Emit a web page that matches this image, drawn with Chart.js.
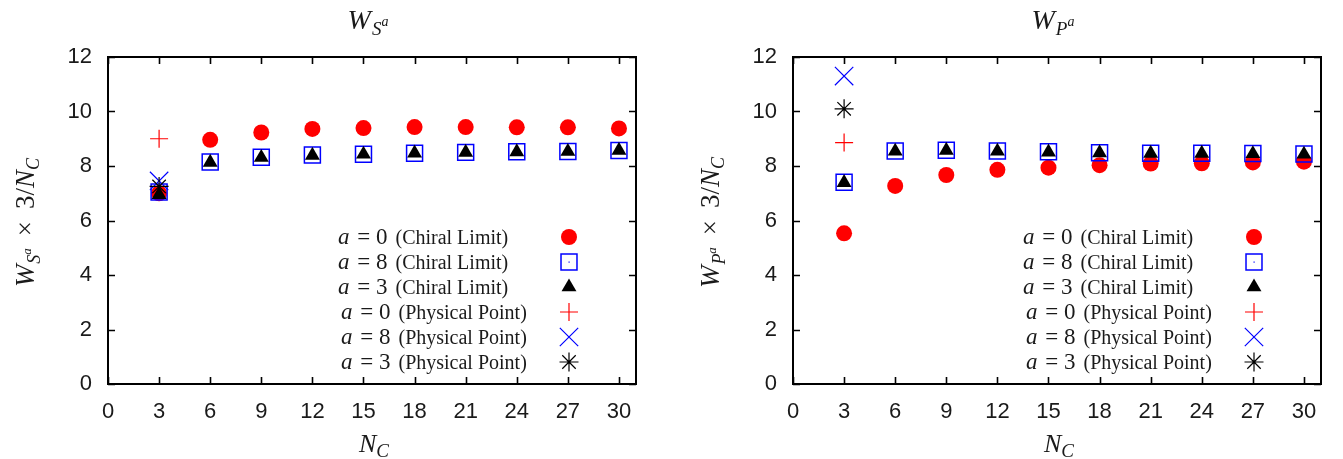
<!DOCTYPE html>
<html>
<head>
<meta charset="utf-8">
<script src="https://cdn.jsdelivr.net/npm/chart.js@4.4.1/dist/chart.umd.min.js"></script>
<style>
  html, body { margin: 0; padding: 0; background: #fff; }
  #wrap { position: relative; width: 1343px; height: 459px; overflow: hidden; }
  canvas { position: absolute; top: 0; }
</style>
</head>
<body>
<div id="wrap">
  <canvas id="chartS" width="672" height="459" style="left:0"></canvas>
  <canvas id="chartP" width="671" height="459" style="left:672px"></canvas>
</div>
<script>
// N_C values
const nc = [3, 6, 9, 12, 15, 18, 21, 24, 27, 30];
const ncPhys = [3];

// W_{S^a} x 3/N_C
const sChiral0 = [7.00, 8.96, 9.23, 9.36, 9.39, 9.43, 9.43, 9.42, 9.42, 9.38];
const sChiral8 = [7.05, 8.15, 8.32, 8.40, 8.43, 8.47, 8.50, 8.52, 8.53, 8.57];
const sChiral3 = [6.95, 8.13, 8.31, 8.39, 8.43, 8.47, 8.50, 8.52, 8.53, 8.57];
const sPhys0 = [9.00];
const sPhys8 = [7.45];
const sPhys3 = [7.25];

// W_{P^a} x 3/N_C
const pChiral0 = [5.53, 7.27, 7.67, 7.86, 7.94, 8.03, 8.09, 8.10, 8.13, 8.16];
const pChiral8 = [7.40, 8.55, 8.58, 8.55, 8.52, 8.49, 8.47, 8.47, 8.46, 8.44];
const pChiral3 = [7.39, 8.54, 8.57, 8.54, 8.51, 8.48, 8.46, 8.46, 8.45, 8.43];
const pPhys0 = [8.86];
const pPhys8 = [11.30];
const pPhys3 = [10.10];

// ticks
const xTicks = [0, 3, 6, 9, 12, 15, 18, 21, 24, 27, 30];
const yTicks = [0, 2, 4, 6, 8, 10, 12];

// legend
const legendA = ['0', '8', '3', '0', '8', '3'];
const legendNote = ['(Chiral Limit)', '(Chiral Limit)', '(Chiral Limit)',
                    '(Physical Point)', '(Physical Point)', '(Physical Point)'];

// marker styles (same order as legend)
const markers = [
  { pointStyle: 'circle',   radius: 8,    fill: '#ff0000', stroke: '#ff0000', bw: 0 },
  { pointStyle: 'rect',     radius: 11.3, fill: 'rgba(0,0,0,0)', stroke: '#0000ff', bw: 1.5 },
  { pointStyle: 'triangle', radius: 8.6,  fill: '#000000', stroke: '#000000', bw: 0 },
  { pointStyle: 'cross',    radius: 9,    fill: 'rgba(0,0,0,0)', stroke: '#ff0000', bw: 1.2 },
  { pointStyle: 'crossRot', radius: 13,   fill: 'rgba(0,0,0,0)', stroke: '#0000ff', bw: 1.2 },
  { pointStyle: 'star',     radius: 9.5,  fill: 'rgba(0,0,0,0)', stroke: '#000000', bw: 1.2 }
];

const SERIF = '"Liberation Serif", "DejaVu Serif", serif';
const SANS = '"Liberation Sans", Arial, sans-serif';
const TXT = '#1a1a1a';

function pts(xs, ys) {
  return ys.map((v, i) => ({ x: xs[i], y: v }));
}

// dibuja texto con sub/superindices
function drawRich(ctx, parts, x, y, align) {
  let w = 0;
  parts.forEach(p => {
    ctx.font = p.font;
    p.w = ctx.measureText(p.text).width;
    w += p.w + (p.gap || 0);
  });
  let cx = align === 'center' ? x - w / 2 : x;
  parts.forEach(p => {
    ctx.font = p.font;
    ctx.fillText(p.text, cx, y + (p.dy || 0));
    cx += p.w + (p.gap || 0);
  });
}

function it(size) { return 'italic ' + size + 'px ' + SERIF; }
function rm(size) { return size + 'px ' + SERIF; }

function wSymbol(letter, big, sub, sup, lastGap) {
  return [
    { text: 'W', font: it(big), gap: 1 },
    { text: letter, font: it(sub), dy: big * 0.22, gap: 0 },
    { text: 'a', font: it(sup), dy: -big * 0.12, gap: lastGap || 0 }
  ];
}

const decor = {
  id: 'decor',
  afterDraw(chart, args, opts) {
    const { ctx, chartArea: a, scales: { x, y } } = chart;
    ctx.save();

    // inward ticks
    ctx.strokeStyle = '#000';
    ctx.lineWidth = 1.6;
    ctx.beginPath();
    xTicks.forEach(v => {
      const px = Math.round(x.getPixelForValue(v)) + 0.5;
      ctx.moveTo(px, a.bottom); ctx.lineTo(px, a.bottom - 7);
      ctx.moveTo(px, a.top); ctx.lineTo(px, a.top + 7);
    });
    yTicks.forEach(v => {
      const py = Math.round(y.getPixelForValue(v)) + 0.5;
      ctx.moveTo(a.left, py); ctx.lineTo(a.left + 7, py);
      ctx.moveTo(a.right, py); ctx.lineTo(a.right - 7, py);
    });
    ctx.stroke();

    // frame
    ctx.lineWidth = 2;
    ctx.strokeRect(a.left, a.top, a.right - a.left, a.bottom - a.top);

    ctx.fillStyle = TXT;
    ctx.textBaseline = 'alphabetic';
    ctx.textAlign = 'left';

    // title
    const cxm = (a.left + a.right) / 2 - 4;
    drawRich(ctx, wSymbol(opts.letter, 28, 19, 14), cxm, 29, 'center');

    // x title
    drawRich(ctx, [
      { text: 'N', font: it(26), gap: 0 },
      { text: 'C', font: it(19), dy: 5 }
    ], cxm + 6, 452, 'center');

    // y title (rotado)
    ctx.save();
    ctx.translate(a.left - 74, (a.top + a.bottom) / 2 + 2);
    ctx.rotate(-Math.PI / 2);
    drawRich(ctx, wSymbol(opts.letter, 27, 18, 13, 12).concat([
      { text: '\u00d7', font: rm(27), gap: 12 },
      { text: '3/', font: rm(27) },
      { text: 'N', font: it(27) },
      { text: 'C', font: it(18), dy: 5 }
    ]), 0, 0, 'center');
    ctx.restore();

    // legend
    const lx = a.left + 230;
    const mx = a.left + 461;
    legendA.forEach((val, i) => {
      const ly = a.top + 180 + i * 25;
      ctx.fillStyle = TXT;
      const off = i >= 3 ? 3 : 0;
      drawRich(ctx, [
        { text: 'a', font: it(23), gap: 2 },
        { text: ' = ' + val, font: rm(23), gap: 8 },
        { text: legendNote[i], font: rm(20) }
      ], lx + off, ly + 7, 'left');
      const m = markers[i];
      ctx.fillStyle = m.fill;
      ctx.strokeStyle = m.stroke;
      ctx.lineWidth = m.bw;
      Chart.helpers.drawPoint(ctx, {
        pointStyle: m.pointStyle, radius: m.radius, rotation: 0, borderWidth: m.bw
      }, mx, ly);
      if (i === 1) {
        ctx.fillStyle = '#0000ff';
        ctx.fillRect(mx - 0.5, ly - 0.5, 1.2, 1.2);
      }
    });
    ctx.restore();
  }
};

function makeChart(id, letter, series, yAxisW, padRight) {
  const xsList = [nc, nc, nc, ncPhys, ncPhys, ncPhys];
  const datasets = series.map((s, i) => {
    const m = markers[i];
    return {
      label: 'a=' + legendA[i] + ' ' + legendNote[i],
      data: pts(xsList[i], s),
      pointStyle: m.pointStyle,
      pointRadius: m.radius,
      pointHoverRadius: m.radius,
      pointBackgroundColor: m.fill,
      pointBorderColor: m.stroke,
      pointBorderWidth: m.bw,
      showLine: false,
      order: 10 - i
    };
  });

  return new Chart(document.getElementById(id), {
    type: 'scatter',
    data: { datasets: datasets },
    options: {
      responsive: false,
      animation: false,
      events: [],
      devicePixelRatio: 1,
      layout: { padding: { top: 57, right: padRight, left: 0, bottom: 0 } },
      plugins: {
        legend: { display: false },
        tooltip: { enabled: false },
        decor: { letter: letter }
      },
      scales: {
        x: {
          type: 'linear', min: 0, max: 31,
          afterBuildTicks: s => { s.ticks = xTicks.map(v => ({ value: v })); },
          afterFit: s => { s.height = 75; },
          grid: { display: false, drawTicks: false },
          border: { display: false },
          ticks: { font: { family: SANS, size: 22 }, color: TXT, padding: 15, maxRotation: 0 }
        },
        y: {
          type: 'linear', min: 0, max: 12,
          afterBuildTicks: s => { s.ticks = yTicks.map(v => ({ value: v })); },
          afterFit: s => { s.width = yAxisW; },
          grid: { display: false, drawTicks: false },
          border: { display: false },
          ticks: { font: { family: SANS, size: 22 }, color: TXT, padding: 16 }
        }
      }
    },
    plugins: [decor]
  });
}

makeChart('chartS', 'S', [sChiral0, sChiral8, sChiral3, sPhys0, sPhys8, sPhys3], 108, 36);
makeChart('chartP', 'P', [pChiral0, pChiral8, pChiral3, pPhys0, pPhys8, pPhys3], 121, 22);
</script>
</body>
</html>
